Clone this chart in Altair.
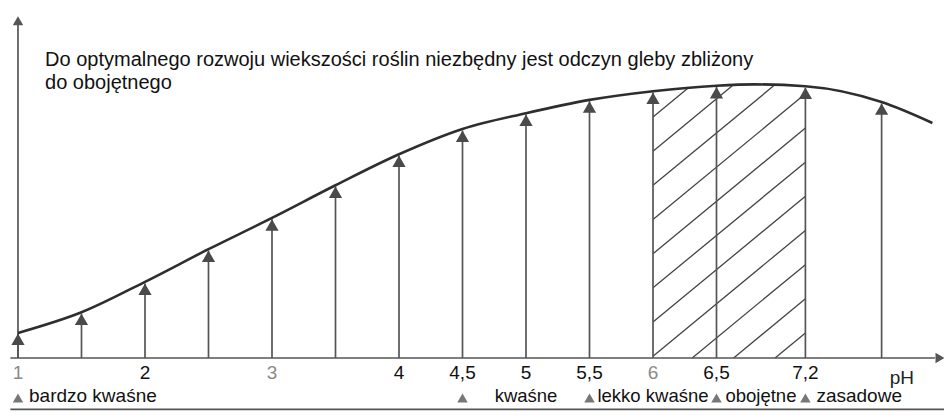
import altair as alt
import pandas as pd
import numpy as np

# ---------------- data ----------------
arrow_ph = [1, 1.5, 2, 2.5, 3, 3.5, 4, 4.5, 5, 5.5, 6, 6.5, 7.2, 7.8]
arrow_val = [9.0, 16.3, 27.4, 39.5, 51.0, 63.0, 74.4, 83.6, 89.5, 94.4, 97.6, 99.6, 99.4, 93.6]

curve_ph = [1, 1.5, 2, 2.5, 3, 3.5, 4, 4.5, 5, 5.5, 6, 6.5, 6.8, 7.2, 7.8, 8.2]
curve_val = [9.2, 16.8, 28.0, 40.0, 51.5, 63.5, 74.9, 84.2, 90.0, 94.9, 98.1, 100.1, 100.6, 99.9, 94.1, 86.4]

tick_ph = [1, 2, 3, 4, 4.5, 5, 5.5, 6, 6.5, 7.2]
tick_text = ["1", "2", "3", "4", "4,5", "5", "5,5", "6", "6,5", "7,2"]
tick_faded = [True, False, True, False, False, False, False, True, False, False]

range_marks = [1, 4.5, 5.5, 6.5, 7.2]
range_names = ["bardzo kwaśne", "kwaśne", "lekko kwaśne", "obojętne", "zasadowe"]
range_from = [1, 4.5, 5.5, 6.5, 7.2]
range_to = [4.5, 5.5, 6.5, 7.2, 8.2]

title_lines = [
    "Do optymalnego rozwoju wiekszości roślin niezbędny jest odczyn gleby zbliżony",
    "do obojętnego",
]

optimum = (6.0, 7.2)  # hatched band

# ---------------- layout constants ----------------
W, H = 936, 403
xs = alt.Scale(domain=[0.9213, 8.2913], nice=False, zero=False)
ys = alt.Scale(domain=[-19.49, 128.68], nice=False, zero=False)
X = lambda f: alt.X(f, type="quantitative", scale=xs, axis=None)
Y = lambda f: alt.Y(f, type="quantitative", scale=ys, axis=None)

INK = "#2e2e2e"
LINE = "#555555"
FONT = "Liberation Sans"

# ---------------- hatch lines (clipped to band under curve) ----------------
HATCH_SLOPE = 38.5
HATCH_STEP = 12.56
HATCH_TOP = 88.6
fine = np.linspace(optimum[0], optimum[1], 400)
curve_fine = np.interp(fine, curve_ph, curve_val)
rows = []
k = 0
while True:
    v0 = HATCH_TOP - HATCH_STEP * k
    if v0 + HATCH_SLOPE * (optimum[1] - optimum[0]) <= 0:
        break
    ps = max(optimum[0], optimum[0] - v0 / HATCH_SLOPE)
    line_fine = v0 + HATCH_SLOPE * (fine - optimum[0])
    mask = (fine >= ps) & (line_fine >= curve_fine)
    pe = fine[mask][0] if mask.any() else optimum[1]
    for p in (ps, pe):
        rows.append({"id": k, "ph": p, "v": v0 + HATCH_SLOPE * (p - optimum[0])})
    k += 1
hatch_df = pd.DataFrame(rows)

hatch = alt.Chart(hatch_df).mark_line(color="#444444", strokeWidth=1.3).encode(
    x=X("ph"), y=Y("v"), detail="id:N", order="ph:Q"
)

arrows_df = pd.DataFrame({"ph": arrow_ph, "v": arrow_val, "z": 0})
stems = alt.Chart(arrows_df).mark_rule(color=LINE, strokeWidth=1.7).encode(
    x=X("ph"), y=Y("z"), y2="v"
)
heads = alt.Chart(arrows_df).mark_point(
    shape="triangle-up", filled=True, size=175, color="#4a4a4a", opacity=1, yOffset=5.7
).encode(x=X("ph"), y=Y("v"))

curve_df = pd.DataFrame({"ph": curve_ph, "v": curve_val})
curve = alt.Chart(curve_df).mark_line(
    color=INK, strokeWidth=2.6, interpolate="monotone"
).encode(x=X("ph"), y=Y("v"))

# axes
frame_df = pd.DataFrame({
    "x": [0.94, 0.94, 1.0],
    "x2": [8.22, 8.32, 1.0],
    "y": [0.0, -18.9, 0.0],
    "y2": [0.0, -18.9, 124.0],
})
frame = alt.Chart(frame_df).mark_rule(color=LINE, strokeWidth=1.7).encode(
    x=X("x"), x2="x2", y=Y("y"), y2="y2"
)
heads_df = pd.DataFrame({
    "x": [8.26, 8.35, 1.0],
    "y": [0.0, -18.9, 124.0],
    "shape": ["triangle-right", "triangle-right", "triangle-up"],
})
axis_heads = alt.Chart(heads_df).mark_point(filled=True, size=110, color=LINE, opacity=1).encode(
    x=X("x"), y=Y("y"), shape=alt.Shape("shape:N", scale=None)
)

# tick labels
ticks_df = pd.DataFrame({"ph": tick_ph, "t": tick_text, "f": tick_faded, "v": -5.4})
tick_lbl = alt.Chart(ticks_df).mark_text(
    font=FONT, fontSize=19, baseline="middle", align="center"
).encode(
    x=X("ph"), y=Y("v"), text="t:N",
    color=alt.Color("f:N", scale=alt.Scale(domain=[False, True], range=["#111111", "#8a8a8a"]), legend=None),
)
ph_lbl = alt.Chart(pd.DataFrame({"ph": [7.96], "v": [-7.2], "t": ["pH"]})).mark_text(
    font=FONT, fontSize=19, baseline="middle", align="center", color="#222222"
).encode(x=X("ph"), y=Y("v"), text="t:N")

# range markers + names
marks_df = pd.DataFrame({"ph": range_marks, "v": -14.7})
range_heads = alt.Chart(marks_df).mark_point(
    shape="triangle-up", filled=True, size=110, color="#777777", opacity=1
).encode(x=X("ph"), y=Y("v"))

names_df = pd.DataFrame({
    "name": range_names,
    "mid": [(a + b) / 2 for a, b in zip(range_from, range_to)],
    "start": range_from,
    "v": -13.9,
})
names_left = alt.Chart(names_df.iloc[[0, 4]]).mark_text(
    font=FONT, fontSize=19, baseline="middle", align="left", dx=11, color="#111111"
).encode(x=X("start"), y=Y("v"), text="name:N")
names_mid = alt.Chart(names_df.iloc[1:4]).mark_text(
    font=FONT, fontSize=18.5, baseline="middle", align="center", color="#111111"
).encode(x=X("mid"), y=Y("v"), text="name:N")

# title text
title_df = pd.DataFrame({"t": title_lines, "ph": 1.213, "v": [109.6, 101.1]})
title = alt.Chart(title_df).mark_text(
    font=FONT, fontSize=20, baseline="middle", align="left", color="#111111"
).encode(x=X("ph"), y=Y("v"), text="t:N")

chart = alt.layer(
    hatch, stems, frame, curve, heads, axis_heads, tick_lbl, ph_lbl,
    range_heads, names_left, names_mid, title
).properties(
    width=W, height=H, padding=0, autosize=alt.AutoSizeParams(type="none"), background="white"
).configure_view(stroke=None)

chart.save("out.html", embed_options={"renderer": "svg", "actions": False})
